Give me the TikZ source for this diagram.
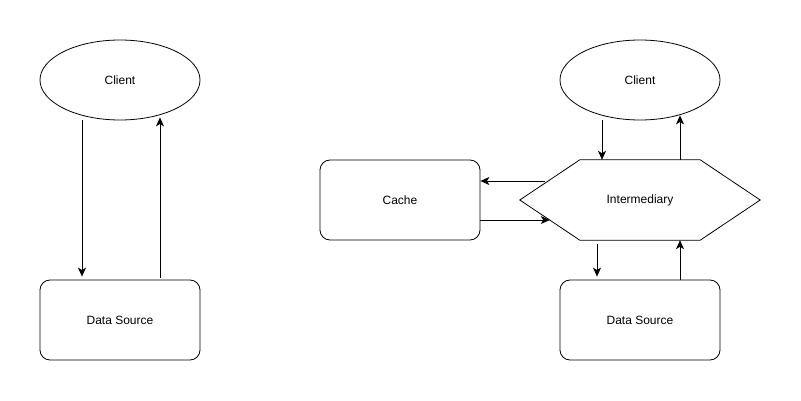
\documentclass[tikz,border=0pt]{standalone}
\usepackage{fontspec}
\setmainfont{Liberation Sans}
\usetikzlibrary{positioning, calc, shapes.geometric, arrows.meta}
\tikzstyle{Arrow} = [
%arrow style for all connectors:
line width=0.8pt,
-{Stealth[length=9pt, width=8pt, inset=2.5pt]}
]

\begin{document}
\begin{tikzpicture}[x=1pt, y=-1pt, font=\fontsize{12}{14}\selectfont,
			client/.style = {ellipse, draw, line width=0.8pt, inner sep=0pt, minimum width=160pt, minimum height=80pt},
			store/.style = {rectangle, draw, line width=0.8pt, rounded corners=10pt, minimum width=160pt, minimum height=80pt},
			hub/.style = {rectangle, minimum width=240pt, minimum height=80pt},
		]
		\useasboundingbox (0,0) rectangle (801,401);

		% direct access
		\node[client](ClientL) at (120,80){Client};
		\node[store](SourceL) at (120,320){Data Source};

		% access through an intermediary
		\node[client](ClientR) at (640,80){Client};
		\node[hub](Inter) at (640,200){Intermediary};
		\node[store](Cache) at (400,200){Cache};
		\node[store](SourceR) at (640,320){Data Source};
		\draw[line width=0.8pt](Inter.west)--([xshift=60pt]Inter.north west)--([xshift=-60pt]Inter.north east)--(Inter.east)--([xshift=-60pt]Inter.south east)--([xshift=60pt]Inter.south west)--cycle;

		\draw[Arrow]($(ClientL.south)+(-38,0)$)--($(SourceL.north)+(-38,-3)$);
		\draw[Arrow]($(SourceL.north)+(40,-2)$)--($(ClientL.south)+(40,-3)$);

		\draw[Arrow]($(ClientR.south)+(-38,0)$)--($(Inter.north)+(-38,0)$);
		\draw[Arrow]($(Inter.north)+(40,0)$)--($(ClientR.south)+(40,-5)$);
		\draw[Arrow]($(Inter.south)+(-43,4)$)--($(SourceR.north)+(-43,-3)$);
		\draw[Arrow]($(SourceR.north)+(40,0)$)--($(Inter.south)+(40,0)$);
		\draw[Arrow]($(Inter.west)+(25,-19)$)--($(Cache.east)+(0,-19)$);
		\draw[Arrow]($(Cache.east)+(0,20)$)--($(Inter.west)+(30,20)$);

	\end{tikzpicture}
\end{document}
